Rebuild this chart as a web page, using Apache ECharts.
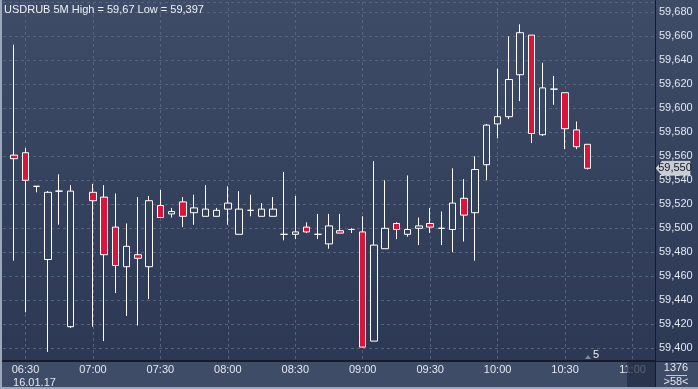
<!DOCTYPE html>
<html>
<head>
<meta charset="utf-8">
<script src="https://cdn.jsdelivr.net/npm/echarts@6/dist/echarts.min.js"></script>
<style>html,body{margin:0;padding:0;background:#2c3852;}#c{width:698px;height:389px;}</style>
</head>
<body>
<div id="c"></div>
<script>
// ---- data ----
var times = ['06:20','06:25','06:30','06:35','06:40','06:45','06:50','06:55','07:00','07:05','07:10','07:15','07:20','07:25','07:30','07:35','07:40','07:45','07:50','07:55','08:00','08:05','08:10','08:15','08:20','08:25','08:30','08:35','08:40','08:45','08:50','08:55','09:00','09:05','09:10','09:15','09:20','09:25','09:30','09:35','09:40','09:45','09:50','09:55','10:00','10:05','10:10','10:15','10:20','10:25','10:30','10:35','10:40','10:45','10:50','10:55','11:00','11:05','11:10'];
var opens  = [null,59.561,59.563,59.535,59.474,59.531,59.418,null,59.530,59.526,59.501,59.468,59.478,59.468,59.519,59.512,59.522,59.513,59.510,59.510,59.516,59.495,59.515,59.510,59.510,59.495,59.495,59.501,59.495,59.487,59.498,59.499,59.497,59.406,59.483,59.504,59.495,59.500,59.504,59.500,59.499,59.525,59.513,59.553,59.587,59.593,59.628,59.661,59.578,59.616,59.613,59.582,59.570,null,null,null,null,null,null];
var closes = [null,59.558,59.540,59.535,59.530,59.531,59.531,null,59.523,59.478,59.469,59.485,59.475,59.523,59.509,59.514,59.510,59.517,59.516,59.515,59.521,59.516,59.515,59.516,59.516,59.495,59.497,59.497,59.495,59.502,59.496,59.499,59.401,59.486,59.500,59.499,59.499,59.502,59.501,59.500,59.521,59.511,59.549,59.586,59.593,59.624,59.663,59.579,59.617,59.616,59.583,59.568,59.550,null,null,null,null,null,null];
var lows   = [null,59.473,59.430,59.530,59.397,59.503,59.417,null,59.418,59.406,59.446,59.427,59.419,59.441,59.509,59.509,59.501,59.503,59.510,59.510,59.503,59.495,59.510,59.510,59.510,59.490,59.491,59.496,59.491,59.483,59.496,59.496,59.401,59.406,59.483,59.491,59.493,59.486,59.496,59.486,59.480,59.489,59.473,59.540,59.575,59.591,59.606,59.571,59.577,59.603,59.566,59.566,59.549,null,null,null,null,null,null];
var highs  = [null,59.653,59.567,59.535,59.531,59.545,59.536,null,59.537,59.536,59.529,59.504,59.526,59.527,59.532,59.517,59.526,59.528,59.536,59.517,59.535,59.531,59.528,59.521,59.526,59.547,59.527,59.505,59.512,59.512,59.512,59.500,59.510,59.556,59.540,59.505,59.544,59.509,59.517,59.514,59.550,59.541,59.560,59.587,59.633,59.660,59.670,59.661,59.638,59.627,59.613,59.589,59.570,null,null,null,null,null,null];
var lastPrice = 59.550;
var titleText = 'USDRUB 5M High = 59,67 Low = 59,397';
var dateText = '16.01.17';
var yMin = 59.39025, yMax = 59.6886;

var candles = times.map(function(t, i){
  if (opens[i] === null) return '-';
  return [opens[i], closes[i], lows[i], highs[i]];
});

var FONT = '"Liberation Sans Narrow", "Liberation Sans", Arial, sans-serif';
var bgGrad = {type:'linear', x:0, y:0, x2:0, y2:389, global:true,
  colorStops:[{offset:0,color:'#3e4c68'},{offset:1,color:'#2b3752'}]};
var showLabel = function(i, v){ return /:(00|30)$/.test(v); };

var chart = echarts.init(document.getElementById('c'), null, {renderer:'canvas'});
chart.setOption({
  animation:false,
  backgroundColor: bgGrad,
  title:{text:titleText, left:4, top:4, padding:0, textStyle:{fontSize:11, fontWeight:'normal', color:'#eef2f7', fontFamily:FONT}},
  grid:{left:3, right:43, top:2, bottom:29, outerBoundsMode:'none', containLabel:false},
  xAxis:{
    type:'category', data:times, boundaryGap:false,
    axisLine:{show:true, lineStyle:{color:'#151b28', width:1}},
    axisTick:{show:false},
    axisLabel:{interval:showLabel, color:'#e2e7ef', fontSize:11, fontFamily:FONT, margin:3, lineHeight:13,
      formatter:function(v){ return v === '06:30' ? '{a|' + v + '}\n{b|' + dateText + '}' : v; },
      rich:{a:{color:'#e2e7ef', fontSize:11, fontFamily:FONT, lineHeight:13},
            b:{color:'#e2e7ef', fontSize:11, fontFamily:FONT, lineHeight:13, padding:[0,0,0,18]}}},
    splitLine:{show:true, interval:showLabel, lineStyle:{color:'#55637f', type:[3,3], width:1}}
  },
  yAxis:{
    type:'value', position:'right', min:yMin, max:yMax, scale:true,
    splitNumber:15, minInterval:0.02, maxInterval:0.02,
    axisLine:{show:true, lineStyle:{color:'#151b28'}},
    axisTick:{show:false},
    axisLabel:{color:'#e2e7ef', fontSize:11, fontFamily:FONT, margin:4, showMinLabel:false, showMaxLabel:false,
      formatter:function(v){ return v.toFixed(3).replace('.', ','); }},
    splitLine:{show:true, lineStyle:{color:'#55637f', type:[3,3], width:1}}
  },
  series:[{
    type:'candlestick', data:candles, barWidth:7,
    itemStyle:{color:bgGrad, color0:'#dc143c', borderColor:'#ffffff', borderColor0:'#ffffff', borderWidth:1},
    markPoint:{
      symbol:'path://M0,7 L6,0 L34,0 L34,14 L6,14 Z', symbolSize:[34,14], symbolOffset:[18,0], silent:true,
      itemStyle:{color:'#c9ced6', borderColor:'#e6e9ee', borderWidth:0.5},
      label:{show:true, position:'inside', color:'#161a22', fontSize:11, fontFamily:FONT, offset:[2,0],
        formatter:function(p){ return lastPrice.toFixed(3).replace('.', ','); }},
      data:[{coord:['11:10', lastPrice], value:lastPrice}]
    }
  }],
  graphic:[
    {type:'rect', z:-10, shape:{x:0,y:361,width:698,height:28}, style:{fill:'#3f4c68'}},
    {type:'rect', z:100, shape:{x:627,y:362,width:28,height:25}, style:{fill:'rgba(33,43,66,0.72)'}},
    {type:'line', z:50, shape:{x1:655.5,y1:0,x2:655.5,y2:389}, style:{stroke:'#151b28', lineWidth:1}},
    {type:'line', z:50, shape:{x1:0,y1:361.5,x2:698,y2:361.5}, style:{stroke:'#151b28', lineWidth:1}},
    {type:'rect', z:60, shape:{x:0,y:0,width:2,height:389}, style:{fill:'#9ca8ba'}},
    {type:'rect', z:60, shape:{x:0,y:387,width:698,height:2}, style:{fill:'#9ca8ba'}},
    {type:'text', z:60, style:{x:676, y:368, text:'1376', fill:'#e2e7ef', font:'11px ' + FONT, textAlign:'center', textVerticalAlign:'middle'}},
    {type:'line', z:60, shape:{x1:666,y1:375.5,x2:687,y2:375.5}, style:{stroke:'#c0c8d4', lineWidth:1}},
    {type:'text', z:60, style:{x:676, y:382, text:'>58<', fill:'#e2e7ef', font:'11px ' + FONT, textAlign:'center', textVerticalAlign:'middle'}},
    {type:'polygon', z:60, shape:{points:[[585,359],[591,359],[588,355]]}, style:{fill:'#7d889a'}},
    {type:'text', z:60, style:{x:596, y:355, text:'5', fill:'#e8edf3', font:'11px ' + FONT, textAlign:'center', textVerticalAlign:'middle'}}
  ]
});
</script>
</body>
</html>
